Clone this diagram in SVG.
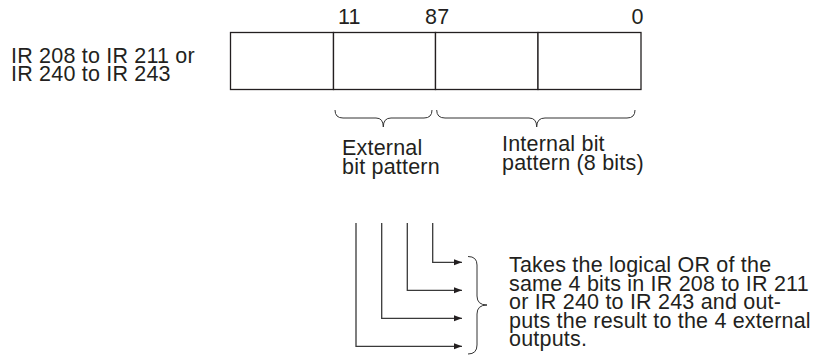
<svg xmlns="http://www.w3.org/2000/svg" width="816" height="361" viewBox="0 0 816 361">
<style>
text{font-family:"Liberation Sans",Arial,sans-serif;font-size:21.5px;letter-spacing:0.2px;fill:#231f20}
.cell{fill:#fff;stroke:#231f20;stroke-width:1.3}
.brace{fill:none;stroke:#333;stroke-width:1}
.conn{fill:none;stroke:#3a3a3a;stroke-width:1.3}
</style>
<defs>
<marker id="arr" markerUnits="userSpaceOnUse" markerWidth="10" markerHeight="8" refX="8" refY="3" orient="auto">
<path d="M0,0 L8,3 L0,6 z" fill="#231f20"/>
</marker>
</defs>
<rect width="816" height="361" fill="#fff"/>
<g id="source-label">
<text x="11" y="62.5">IR 208 to IR 211 or</text>
<text x="11" y="81">IR 240 to IR 243</text>
</g>
<g id="register">
<rect class="cell" x="230.5" y="32.5" width="103" height="57"/>
<rect class="cell" x="333.5" y="32.5" width="102" height="57"/>
<rect class="cell" x="435.5" y="32.5" width="102.5" height="57"/>
<rect class="cell" x="538" y="32.5" width="103" height="57"/>
<text x="338" y="23.5">11</text>
<text x="425" y="23.5">87</text>
<text x="631.5" y="23.5">0</text>
</g>
<g id="external-pattern">
<path class="brace" d="M335,110 Q335,118 343,118 L376,118 Q383.3,118 383.3,127 Q383.3,118 391,118 L424,118 Q432,118 432,110"/>
<text x="342" y="155">External</text>
<text x="342" y="173.5">bit pattern</text>
</g>
<g id="internal-pattern">
<path class="brace" d="M436.7,110 Q436.7,118 445,118 L529,118 Q536.7,118 536.7,127 Q536.7,118 545,118 L627,118 Q635,118 635,110"/>
<text x="502" y="151">Internal bit</text>
<text x="502" y="169.5">pattern (8 bits)</text>
</g>
<g id="connectors">
<path class="conn" d="M432.7,223 V262.3 H462" marker-end="url(#arr)"/>
<path class="conn" d="M407.3,223 V290.3 H462" marker-end="url(#arr)"/>
<path class="conn" d="M381.7,223 V318.3 H462" marker-end="url(#arr)"/>
<path class="conn" d="M356,223 V346.3 H462" marker-end="url(#arr)"/>
</g>
<g id="outputs-note">
<path class="brace" d="M468,256.5 Q477,256.5 477,265 L477,296 Q477,305 487,305 Q477,305 477,314 L477,345 Q477,354 468,354"/>
<text x="509" y="272">Takes the logical OR of the</text>
<text x="509" y="290.5">same 4 bits in IR 208 to IR 211</text>
<text x="509" y="309">or IR 240 to IR 243 and out-</text>
<text x="509" y="327.5">puts the result to the 4 external</text>
<text x="509" y="346">outputs.</text>
</g>
</svg>
